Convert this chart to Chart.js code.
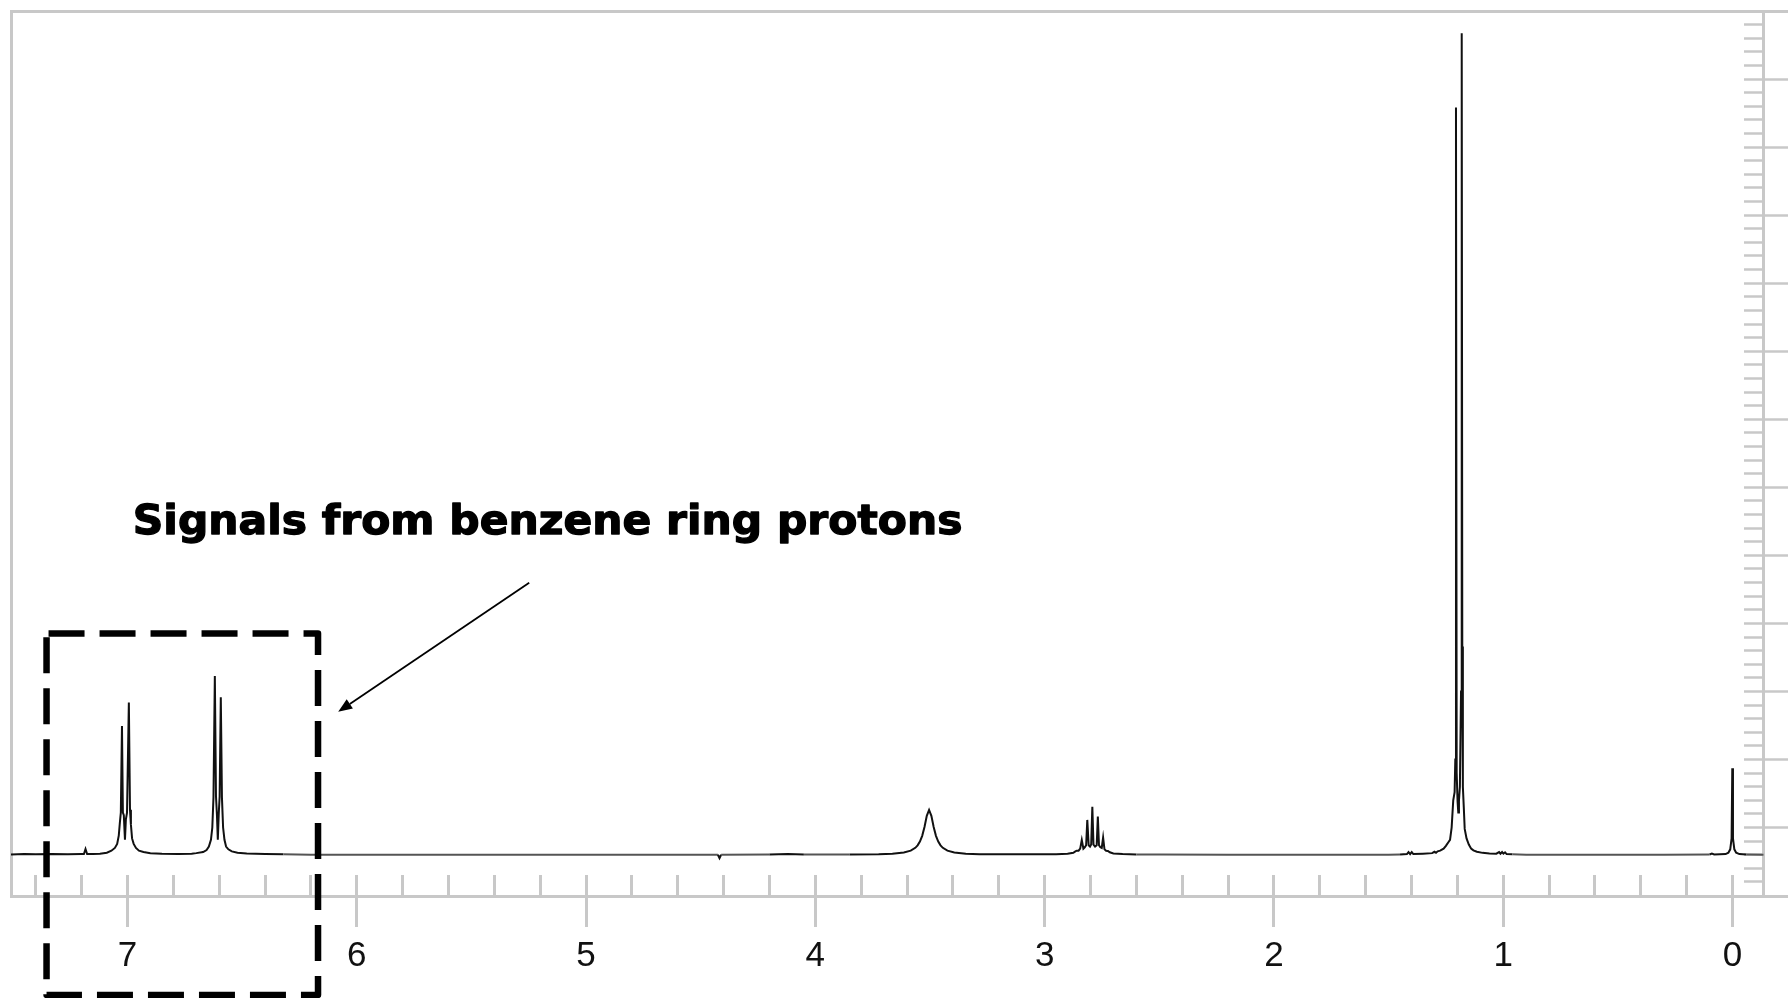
<!DOCTYPE html>
<html><head><meta charset="utf-8">
<script src="https://cdn.jsdelivr.net/npm/chart.js@4.4.1/dist/chart.umd.min.js"></script>
<style>html,body{margin:0;padding:0;background:#fff;overflow:hidden}canvas{display:block}</style>
</head><body>
<canvas id="c" width="1788" height="998"></canvas>
<script>
// ---- axis ranges (ppm on x, reversed; intensity on y) ----
const X_MIN = -0.242, X_MAX = 7.508, X_RIGHT_AXIS = -0.135;
const Y_MIN = -3.03, Y_MAX = 62;

// ---- tick values ----
const xMajorTicks = [7, 6, 5, 4, 3, 2, 1, 0];
const xMinorTicks = []; for (let k = 37; k >= 0; k--) xMinorTicks.push(+(k * 0.2).toFixed(1));
const yMinorTicks = []; for (let v = -2; v <= 61; v++) yMinorTicks.push(v);
const yMajorTicks = [2, 7, 12, 17, 22, 27, 32, 37, 42, 47, 52, 57];

// ---- spectrum, [ppm, intensity] ----
const noiseLeft = [[7.508,0.02],[7.45,0.06],[7.40,0.03],[7.33,0.06],[7.26,0.04],[7.20,0.06],[7.190,0.06],[7.183,0.42],[7.176,0.06],[7.15,0.05]];
const aromaticHigh = [[7.12,0.08],[7.09,0.15],[7.07,0.3],[7.055,0.5],[7.045,0.8],[7.038,1.4],[7.033,2.4],[7.029,3.1],[7.024,9.46],[7.020,3.1],[7.016,2.9],[7.011,1.1],[7.007,2.6],[7.002,3.1],[6.994,11.18],[6.989,3.3],[6.985,2.2],[6.980,1.2],[6.973,0.8],[6.963,0.5],[6.95,0.3],[6.93,0.2],[6.90,0.12],[6.85,0.07],[6.78,0.05],[6.72,0.08]];
const aromaticLow = [[6.70,0.12],[6.67,0.2],[6.655,0.35],[6.645,0.6],[6.636,1.1],[6.630,2.0],[6.625,4.2],[6.619,13.14],[6.614,4.3],[6.610,3.0],[6.606,1.1],[6.602,3.0],[6.598,4.3],[6.593,11.57],[6.588,4.2],[6.583,2.0],[6.577,1.1],[6.570,0.6],[6.56,0.4],[6.545,0.25],[6.52,0.15],[6.48,0.09],[6.40,0.05],[6.32,0.03]];
const midBaseline = [[6.20,0.01],[5.60,0],[4.80,0],[4.425,0],[4.418,-0.25],[4.411,0],[4.20,0.02],[4.12,0.05],[4.05,0.02],[3.85,0.02]];
const hydroxyl = [[3.724,0.04],[3.664,0.08],[3.614,0.17],[3.584,0.30],[3.564,0.51],[3.554,0.69],[3.544,0.97],[3.534,1.39],[3.524,2.04],[3.514,2.86],[3.504,3.29],[3.494,2.86],[3.484,2.04],[3.474,1.39],[3.464,0.97],[3.454,0.69],[3.444,0.51],[3.424,0.30],[3.394,0.17],[3.344,0.08],[3.284,0.04]];
const methine = [[2.95,0.03],[2.90,0.08],[2.875,0.15],[2.866,0.25],[2.860,0.3],[2.852,0.3],[2.845,0.45],[2.838,1.09],[2.831,0.45],[2.825,0.55],[2.819,0.7],[2.814,2.56],[2.808,0.7],[2.802,0.6],[2.797,0.75],[2.792,3.53],[2.787,0.75],[2.780,0.6],[2.773,0.7],[2.768,2.8],[2.763,0.7],[2.757,0.55],[2.751,0.5],[2.745,1.26],[2.739,0.4],[2.732,0.3],[2.724,0.28],[2.716,0.18],[2.70,0.1],[2.66,0.05],[2.60,0.02]];
const quietBaseline = [[2.50,0.02],[2.20,0.01],[1.80,0],[1.50,0.01],[1.45,0.02]];
const methyl = [[1.42,0.05],[1.413,0.2],[1.406,0.05],[1.399,0.2],[1.392,0.05],[1.35,0.08],[1.31,0.12],[1.300,0.22],[1.293,0.15],[1.286,0.25],[1.275,0.3],[1.26,0.45],[1.25,0.65],[1.24,0.9],[1.232,1.1],[1.225,2.0],[1.218,4.0],[1.212,4.6],[1.209,7],[1.206,54.9],[1.203,6],[1.199,3.9],[1.196,3.1],[1.193,4.0],[1.189,5],[1.184,12],[1.181,60.36],[1.1785,15.3],[1.176,5],[1.172,3.5],[1.168,1.9],[1.160,1.2],[1.150,0.75],[1.140,0.45],[1.13,0.32],[1.115,0.22],[1.09,0.14],[1.06,0.1],[1.03,0.08],[1.018,0.2],[1.012,0.08],[1.005,0.2],[0.999,0.08],[0.992,0.18],[0.985,0.05],[0.96,0.03],[0.90,0],[0.60,0],[0.30,0]];
const tms = [[0.10,0.02],[0.09,0.08],[0.08,0.02],[0.03,0.05],[0.018,0.15],[0.010,0.4],[0.004,1.2],[0.001,6.36],[-0.002,1.2],[-0.008,0.4],[-0.016,0.15],[-0.03,0.05],[-0.06,0.02],[-0.135,0]];

// ---- annotation (in data coordinates) ----
const noteText = 'Signals from benzene ring protons';
const noteBox = { ppmLeft: 7.353, ppmRight: 6.169, top: 16.26, bottom: -10.3 };
const noteArrow = { fromPpm: 5.248, fromY: 19.99, toPpm: 6.081, toY: 10.51 };
const noteLabel = { ppmLeft: 6.968, ppmRight: 3.365, baseline: 23.57 };

const spectrum = [].concat(noiseLeft, aromaticHigh, aromaticLow, midBaseline, hydroxyl, methine, quietBaseline, methyl, tms)
  .map(([x, y]) => ({ x, y }));

const AXIS_GRAY = '#c8c8c8';
Chart.defaults.font.family = '"Liberation Sans", Arial, sans-serif';

const notePlugin = {
  id: 'benzeneNote',
  afterDraw(chart) {
    const c = chart.ctx, sx = chart.scales.x, sy = chart.scales.y;
    c.save();
    // dashed box
    const x0 = sx.getPixelForValue(noteBox.ppmLeft), x1 = sx.getPixelForValue(noteBox.ppmRight);
    const y0 = sy.getPixelForValue(noteBox.top), y1 = sy.getPixelForValue(noteBox.bottom);
    c.strokeStyle = '#000'; c.lineWidth = 6.5; c.setLineDash([36, 15]); c.lineDashOffset = -2; c.lineJoin = 'round';
    c.beginPath(); c.moveTo(x0, y0); c.lineTo(x1, y0); c.lineTo(x1, y1); c.lineTo(x0, y1); c.closePath(); c.stroke();
    c.setLineDash([]);
    // arrow
    const ax0 = sx.getPixelForValue(noteArrow.fromPpm), ay0 = sy.getPixelForValue(noteArrow.fromY);
    const ax1 = sx.getPixelForValue(noteArrow.toPpm), ay1 = sy.getPixelForValue(noteArrow.toY);
    const ang = Math.atan2(ay1 - ay0, ax1 - ax0), L = 14, W = 5.5;
    const bx = ax1 - L * Math.cos(ang), by = ay1 - L * Math.sin(ang);
    c.lineWidth = 1.8; c.beginPath(); c.moveTo(ax0, ay0); c.lineTo(bx, by); c.stroke();
    c.fillStyle = '#000'; c.beginPath(); c.moveTo(ax1, ay1);
    c.lineTo(bx + W * Math.sin(ang), by - W * Math.cos(ang));
    c.lineTo(bx - W * Math.sin(ang), by + W * Math.cos(ang)); c.closePath(); c.fill();
    // label
    const tl = sx.getPixelForValue(noteLabel.ppmLeft), tr = sx.getPixelForValue(noteLabel.ppmRight);
    const tb = sy.getPixelForValue(noteLabel.baseline);
    c.font = 'bold 41px "DejaVu Sans", Verdana, sans-serif';
    c.textBaseline = 'alphabetic'; c.textAlign = 'left';
    const m = c.measureText(noteText);
    const bw = m.actualBoundingBoxLeft + m.actualBoundingBoxRight;
    const k = (tr - tl) / bw;
    c.translate(tl, tb); c.scale(k, 1);
    c.lineWidth = 1.3; c.lineJoin = 'round';
    c.strokeText(noteText, m.actualBoundingBoxLeft, 0);
    c.fillText(noteText, m.actualBoundingBoxLeft, 0);
    c.restore();
  }
};

const hiddenTicks = { display: false };
new Chart(document.getElementById('c'), {
  type: 'line',
  data: { datasets: [{
    data: spectrum, xAxisID: 'x', yAxisID: 'y',
    borderColor: '#111', borderWidth: 2, pointRadius: 0, tension: 0, fill: false,
    segment: { borderColor: ctx => (Math.abs(ctx.p0.parsed.y) < 0.035 && Math.abs(ctx.p1.parsed.y) < 0.035) ? '#555' : '#111' }
  }]},
  options: {
    responsive: false, animation: false, devicePixelRatio: 1,
    layout: { padding: { left: 11, top: 11, right: 0, bottom: 102 } },
    plugins: { legend: { display: false }, tooltip: { enabled: false }, title: { display: false } },
    scales: {
      x: {
        axis: 'x', type: 'linear', reverse: true, min: X_MIN, max: X_MAX, position: { y: Y_MIN },
        afterBuildTicks: s => { s.ticks = xMajorTicks.map(v => ({ value: v })); },
        grid: { display: true, drawOnChartArea: false, drawTicks: true, tickLength: 31, tickWidth: 3, tickColor: AXIS_GRAY },
        border: { display: false },
        ticks: { display: true, padding: 8, autoSkip: false, maxRotation: 0, color: '#111',
                 font: { family: '"Liberation Sans", Arial, sans-serif', size: 35 }, callback: v => String(v) }
      },
      xm: {
        axis: 'x', type: 'linear', reverse: true, min: X_MIN, max: X_MAX, position: { y: Y_MIN },
        afterBuildTicks: s => { s.ticks = xMinorTicks.map(v => ({ value: v })); },
        grid: { display: true, drawOnChartArea: false, drawTicks: true, tickLength: -23, tickWidth: 3, tickColor: AXIS_GRAY },
        border: { display: true, width: 3, color: AXIS_GRAY },
        ticks: hiddenTicks
      },
      xt: {
        axis: 'x', type: 'linear', reverse: true, min: X_MIN, max: X_MAX, position: { y: Y_MAX },
        grid: { display: false }, border: { display: true, width: 3, color: AXIS_GRAY }, ticks: hiddenTicks
      },
      y: {
        axis: 'y', type: 'linear', min: Y_MIN, max: Y_MAX, position: { x: X_RIGHT_AXIS },
        afterBuildTicks: s => { s.ticks = yMinorTicks.map(v => ({ value: v })); },
        grid: { display: true, drawOnChartArea: false, drawTicks: true, tickLength: 18, tickWidth: 2.5, tickColor: AXIS_GRAY },
        border: { display: true, width: 3, color: AXIS_GRAY },
        ticks: hiddenTicks
      },
      yM: {
        axis: 'y', type: 'linear', min: Y_MIN, max: Y_MAX, position: { x: X_RIGHT_AXIS },
        afterBuildTicks: s => { s.ticks = yMajorTicks.map(v => ({ value: v })); },
        grid: { display: true, drawOnChartArea: false, drawTicks: true, tickLength: -25, tickWidth: 2.5, tickColor: AXIS_GRAY },
        border: { display: false },
        ticks: hiddenTicks
      },
      yl: {
        axis: 'y', type: 'linear', min: Y_MIN, max: Y_MAX, position: { x: X_MAX },
        grid: { display: false }, border: { display: true, width: 3, color: AXIS_GRAY }, ticks: hiddenTicks
      }
    }
  },
  plugins: [notePlugin]
});
</script>
</body></html>
